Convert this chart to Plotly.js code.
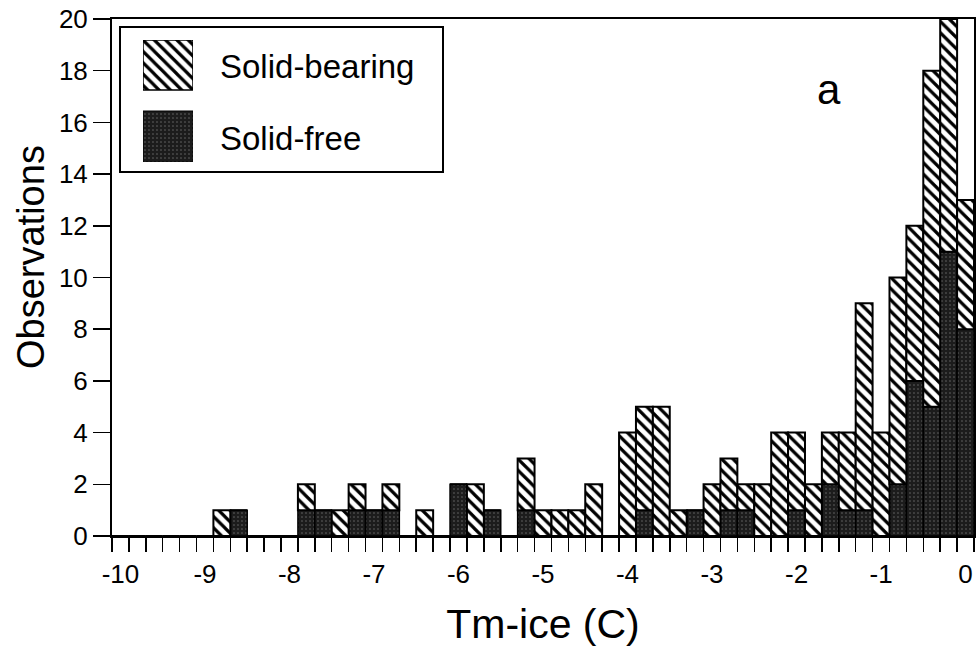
<!DOCTYPE html>
<html>
<head>
<meta charset="utf-8">
<script src="https://cdn.plot.ly/plotly-3.0.1.min.js"></script>
<style>html,body{margin:0;padding:0;background:#fff;}#chart{width:979px;height:647px;}</style>
</head>
<body>
<div id="chart"></div>
<script>
// Bin centres of Tm-ice (C), bin width 0.2
const binCenters = [-10.0,-9.8,-9.6,-9.4,-9.2,-9.0,-8.8,-8.6,-8.4,-8.2,
  -8.0,-7.8,-7.6,-7.4,-7.2,-7.0,-6.8,-6.6,-6.4,-6.2,
  -6.0,-5.8,-5.6,-5.4,-5.2,-5.0,-4.8,-4.6,-4.4,-4.2,
  -4.0,-3.8,-3.6,-3.4,-3.2,-3.0,-2.8,-2.6,-2.4,-2.2,
  -2.0,-1.8,-1.6,-1.4,-1.2,-1.0,-0.8,-0.6,-0.4,-0.2,0.0];
// Solid-free observations (dark, bottom)
const solidFree = [0,0,0,0,0,0,0,1,0,0,
  0,1,1,0,1,1,1,0,0,0,
  2,0,1,0,1,0,0,0,0,0,
  0,1,0,0,1,0,1,1,0,0,
  1,0,2,1,1,0,2,6,5,11,8];
// Solid-bearing observations (hatched, on top)
const solidBearing = [0,0,0,0,0,0,1,0,0,0,
  0,1,0,1,1,0,1,0,1,0,
  0,2,0,0,2,1,1,1,2,0,
  4,4,5,1,0,2,2,1,2,4,
  3,2,2,3,8,4,8,6,13,9,5];
const xTickVals = [-10,-9,-8,-7,-6,-5,-4,-3,-2,-1,0];
const xTickText = ['-10','-9','-8','-7','-6','-5','-4','-3','-2','-1','0'];
const seriesNames = ['Solid-bearing','Solid-free'];

const FONT = 'Liberation Sans, Arial, sans-serif';
const hatch = {shape:'\\', fgcolor:'#000', bgcolor:'#fff', size:8, solidity:0.4};
const speckle = {shape:'.', fgcolor:'#6a6a6a', bgcolor:'#1c1c1c', size:4, solidity:0.12};

const traces = [
  {type:'bar', name:seriesNames[1], x:binCenters, y:solidFree, width:0.2,
   marker:{color:'#1c1c1c', pattern:speckle, line:{color:'#000', width:1.5}}, showlegend:false},
  {type:'bar', name:seriesNames[0], x:binCenters, y:solidBearing, base:solidFree, width:0.2,
   marker:{color:'#fff', pattern:hatch, line:{color:'#000', width:2}}, showlegend:false},
  // legend keys drawn in a small inset
  {type:'bar', name:seriesNames[0]+' key', x:[0.5], y:[50], base:[0], width:[1], xaxis:'x2', yaxis:'y2',
   marker:{color:'#fff', pattern:hatch, line:{color:'#000', width:1.5}}, showlegend:false, hoverinfo:'skip'},
  {type:'bar', name:seriesNames[1]+' key', x:[0.5], y:[51], base:[71], width:[1], xaxis:'x2', yaxis:'y2',
   marker:{color:'#1c1c1c', pattern:speckle, line:{color:'#000', width:1}}, showlegend:false, hoverinfo:'skip'}
];

const layout = {
  width:979, height:647,
  margin:{l:112, r:5, t:19, b:111},
  paper_bgcolor:'#fff', plot_bgcolor:'#fff',
  barmode:'overlay', bargap:0,
  font:{family:FONT, color:'#000', size:26},
  showlegend:false,
  xaxis:{
    range:[-10.1, 0.1], tickmode:'array', tickvals:xTickVals, ticktext:xTickText,
    ticks:'outside', ticklen:14, tickcolor:'rgba(0,0,0,0)', tickfont:{size:26},
    minor:{ticks:'outside', ticklen:14, tickwidth:1.5, tickcolor:'#000', tick0:-10.1, dtick:0.2, showgrid:false},
    showline:true, linecolor:'#000', linewidth:2, mirror:true, showgrid:false, zeroline:false,
    title:{text:'Tm-ice (C)', font:{size:41}, standoff:22}
  },
  yaxis:{
    range:[0,20], dtick:2, tick0:0, ticks:'outside', ticklen:17, tickwidth:1.5, tickcolor:'#000',
    tickfont:{size:26},
    showline:true, linecolor:'#000', linewidth:2, mirror:true, showgrid:false, zeroline:false
  },
  xaxis2:{domain:[(143-112)/862, (193-112)/862], range:[0,1], visible:false, anchor:'y2', fixedrange:true},
  yaxis2:{domain:[(536-162)/517, (536-40)/517], range:[122,0], visible:false, anchor:'x2', fixedrange:true},
  shapes:[
    {type:'rect', xref:'paper', yref:'paper', x0:(120-112)/862, x1:(443-112)/862,
     y0:(536-172)/517, y1:(536-27)/517, line:{color:'#000', width:2}, fillcolor:'rgba(255,255,255,0)', layer:'above'}
  ],
  annotations:[
    {xref:'paper', yref:'paper', x:(31-112)/862, y:(536-257)/517, xanchor:'center', yanchor:'middle',
     textangle:-90, text:'Observations', showarrow:false, font:{size:38}},
    {xref:'paper', yref:'paper', x:(218-112)/862, y:(536-66)/517, xanchor:'left', yanchor:'middle',
     text:'Solid-bearing', showarrow:false, font:{size:33}},
    {xref:'paper', yref:'paper', x:(218-112)/862, y:(536-138)/517, xanchor:'left', yanchor:'middle',
     text:'Solid-free', showarrow:false, font:{size:33}},
    {xref:'x', yref:'y', x:-1.615, y:17.27, text:'a', showarrow:false, font:{size:42}}
  ]
};

Plotly.newPlot('chart', traces, layout, {staticPlot:true, displayModeBar:false});
</script>
</body>
</html>
